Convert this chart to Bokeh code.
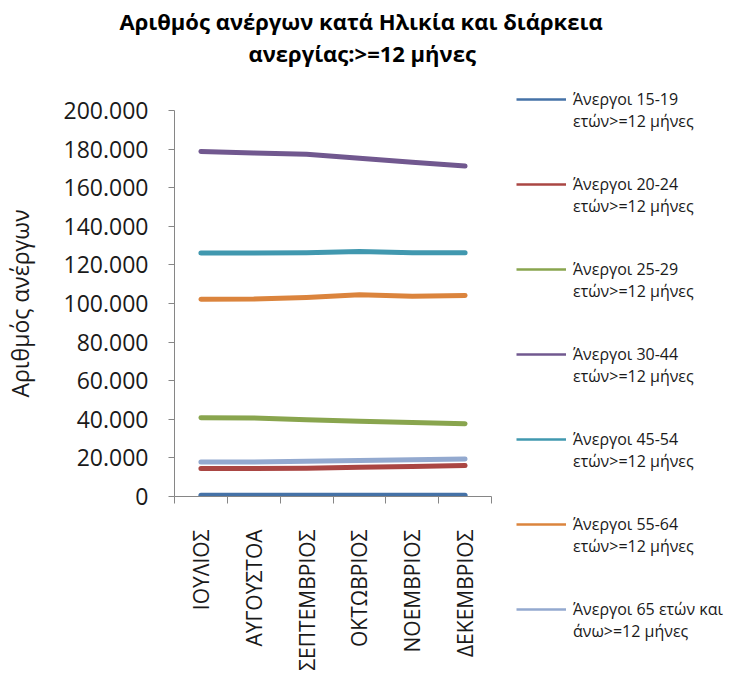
from bokeh.plotting import figure
from bokeh.models import (FixedTicker, Legend, LegendItem, Title, Range1d)
from bokeh.embed import file_html
from bokeh.resources import INLINE
from bokeh.core.properties import value

# ---- data ----
months = ["ΙΟΥΛΙΟΣ", "ΑΥΓΟΥΣΤΟΑ", "ΣΕΠΤΕΜΒΡΙΟΣ", "ΟΚΤΩΒΡΙΟΣ", "ΝΟΕΜΒΡΙΟΣ", "ΔΕΚΕΜΒΡΙΟΣ"]
age_15_19 = [600, 600, 600, 600, 600, 600]
age_20_24 = [14500, 14500, 14700, 15200, 15500, 16000]
age_25_29 = [40800, 40700, 39800, 39000, 38400, 37700]
age_30_44 = [178800, 178000, 177300, 175200, 173200, 171200]
age_45_54 = [126200, 126200, 126300, 127000, 126300, 126300]
age_55_64 = [102200, 102300, 103100, 104500, 103700, 104200]
age_65_plus = [17900, 17900, 18300, 18700, 19100, 19400]

series_labels = [
    "Άνεργοι 15-19\nετών>=12 μήνες",
    "Άνεργοι 20-24\nετών>=12 μήνες",
    "Άνεργοι 25-29\nετών>=12 μήνες",
    "Άνεργοι 30-44\nετών>=12 μήνες",
    "Άνεργοι 45-54\nετών>=12 μήνες",
    "Άνεργοι 55-64\nετών>=12 μήνες",
    "Άνεργοι 65 ετών και\nάνω>=12 μήνες",
]
series_values = [age_15_19, age_20_24, age_25_29, age_30_44, age_45_54, age_55_64, age_65_plus]
series_colors = ["#4572A7", "#AA4643", "#89A54E", "#71588F", "#4198AF", "#DB843D", "#93A9CF"]

y_ticks = [0, 20000, 40000, 60000, 80000, 100000, 120000, 140000, 160000, 180000, 200000]
y_tick_labels = ["0", "20.000", "40.000", "60.000", "80.000", "100.000",
                 "120.000", "140.000", "160.000", "180.000", "200.000"]

title_line1 = "Αριθμός ανέργων κατά Ηλικία και διάρκεια"
title_line2 = "ανεργίας:>=12 μήνες"
y_axis_title = "Αριθμός ανέργων"

FONT = "Open Sans"
AXIS_GRAY = "#868686"
NAN = float("nan")

x_pos = [i + 1 for i in range(len(months))]
x_bounds = [i + 0.5 for i in range(len(months) + 1)]

p = figure(frame_width=317, frame_height=386, output_backend="svg", toolbar_location=None,
           x_range=Range1d(0.5, len(months) + 0.5), y_range=Range1d(y_ticks[0], y_ticks[-1]),
           min_border_left=168, min_border_top=110, min_border_bottom=176,
           min_border_right=236)
p.outline_line_color = None
p.grid.visible = False
p.background_fill_color = "white"
p.border_fill_color = "white"

renderers = []
for vals, col in zip(series_values, series_colors):
    p.line(x_pos, vals, line_color=col, line_width=5, line_cap="round", line_join="round")
    # thinner proxy line for the legend key (single NaN point, draws nothing in the plot)
    r = p.line([NAN], [NAN], line_color=col, line_width=2.5)
    renderers.append(r)

# axes
xa = p.xaxis[0]
xa.ticker = FixedTicker(ticks=x_pos, minor_ticks=x_bounds)
xa.major_label_overrides = {x: m for x, m in zip(x_pos, months)}
xa.major_label_orientation = 3.14159265 / 2
xa.major_tick_line_color = None
xa.major_tick_out = 0
xa.major_tick_in = 0
xa.minor_tick_out = 7
xa.minor_tick_in = 0
xa.minor_tick_line_color = AXIS_GRAY
xa.axis_line_color = AXIS_GRAY
xa.major_label_text_font = FONT
xa.major_label_text_font_size = "21px"
xa.major_label_text_color = "#1a1a1a"
xa.major_label_standoff = 26

ya = p.yaxis[0]
ya.ticker = FixedTicker(ticks=y_ticks)
ya.major_label_overrides = {t: l for t, l in zip(y_ticks, y_tick_labels)}
ya.major_tick_out = 6
ya.major_tick_in = 0
ya.minor_tick_line_color = None
ya.major_tick_line_color = AXIS_GRAY
ya.axis_line_color = AXIS_GRAY
ya.major_label_text_font = FONT
ya.major_label_text_font_size = "23px"
ya.major_label_text_color = "#1a1a1a"
ya.major_label_standoff = 20
ya.axis_label = y_axis_title
ya.axis_label_text_font = FONT
ya.axis_label_text_font_size = "23px"
ya.axis_label_text_font_style = "normal"
ya.axis_label_text_color = "#1a1a1a"
ya.axis_label_standoff = 25

# title: p.title is outermost; added "above" panels stack outward from the plot
p.title.text = title_line1
p.title.align = "left"
p.title.offset = -55
p.title.text_font = FONT
p.title.text_font_size = "22px"
p.title.text_font_style = "bold"
p.title.text_color = "#000000"
p.title.standoff = 0
# blank spacer nearest the plot, then the second title line above it
p.add_layout(Title(text="\u00a0", align="left", text_font=FONT,
                   text_font_size="22px", standoff=11), "above")
p.add_layout(Title(text=title_line2, align="left", offset=74, text_font=FONT,
                   text_font_size="22px", text_font_style="bold",
                   text_color="#000000", standoff=0), "above")

legend = Legend(items=[LegendItem(label=value("\n" + lbl), renderers=[r])
                       for lbl, r in zip(series_labels, renderers)],
                location=(25, -146), orientation="vertical",
                glyph_width=50, glyph_height=20, label_standoff=7,
                spacing=19, padding=0, margin=0,
                border_line_color=None, background_fill_alpha=0,
                label_text_font=FONT, label_text_font_size="16px",
                label_text_color="#1a1a1a")
p.add_layout(legend, "right")

open("out.html", "w").write(file_html(p, INLINE))
